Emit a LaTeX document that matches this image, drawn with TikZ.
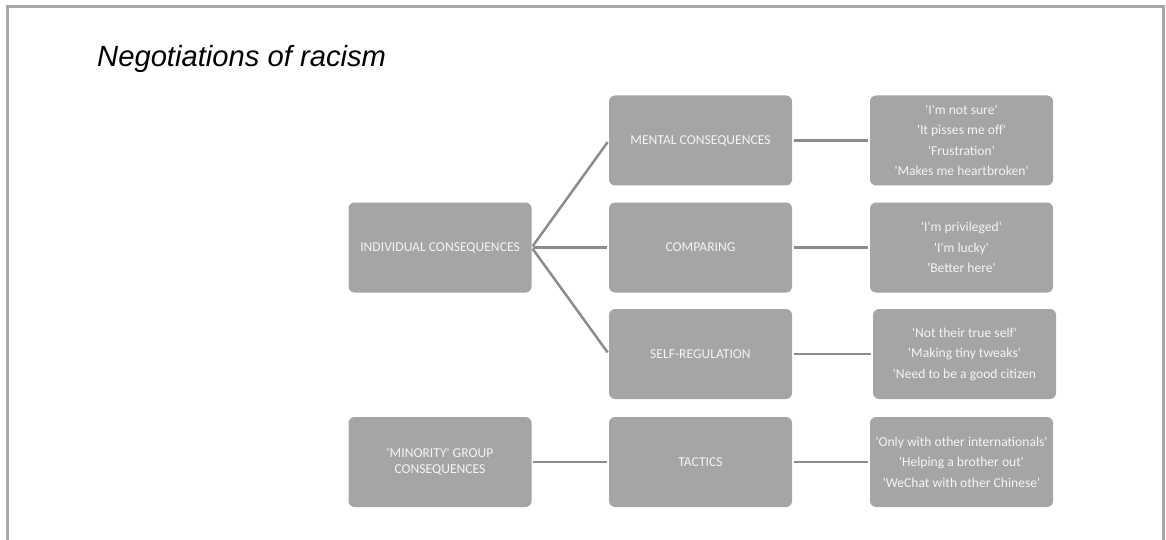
\documentclass[tikz,border=0pt]{standalone}
\usepackage{fontspec}
\setmainfont{Carlito}
\newfontfamily\titlefont{Liberation Sans}
\newcommand\sq{\textquotesingle}
\definecolor{boxfill}{HTML}{A5A5A5}
\definecolor{boxtext}{HTML}{F4F4F4}
\definecolor{linecol}{HTML}{8C8C8C}
\definecolor{framecol}{HTML}{A8A8A8}
\tikzset{
  box/.style={rectangle, rounded corners=6pt, fill=boxfill, text=boxtext, inner sep=0pt,
    minimum width=183pt, minimum height=90pt, align=center,
    font=\fontsize{13.6}{20.5}\selectfont},
  conn/.style={draw=linecol, line width=2.5pt, shorten <=1.5pt, shorten >=2pt},
}
\begin{document}
\begin{tikzpicture}[x=1pt,y=-1pt]
\useasboundingbox (0,0) rectangle (1166,540);
\draw[framecol, line width=3pt] (7.5,545) -- (7.5,6.5) -- (1163.5,6.5) -- (1163.5,545);
\node[anchor=base west, inner sep=0pt, font=\titlefont\itshape\fontsize{29.2}{34}\selectfont] (title) at (97,67) {Negotiations of racism};

\node[box] (ind) at (440,247.5) {INDIVIDUAL CONSEQUENCES};
\node[box] (min) at (440,462) {\sq MINORITY\sq{} GROUP\\[-4pt]CONSEQUENCES};
\node[box] (men) at (700.5,140.5) {MENTAL CONSEQUENCES};
\node[box] (com) at (700.5,247.5) {COMPARING};
\node[box] (sel) at (700.5,354) {SELF-REGULATION};
\node[box] (tac) at (700.5,462) {TACTICS};

\node[box] (q1) at (961.5,140.5) {\sq I\sq m not sure\sq\\\sq It pisses me off\sq\\\sq Frustration\sq\\\sq Makes me heartbroken\sq};
\node[box] (q2) at (961.5,247.5) {\sq I\sq m privileged\sq\\\sq I\sq m lucky\sq\\\sq Better here\sq};
\node[box] (q3) at (964.5,354) {\sq Not their true self\sq\\\sq Making tiny tweaks\sq\\\sq Need to be a good citizen};
\node[box] (q4) at (961.5,462) {\sq Only with other internationals\sq\\\sq Helping a brother out\sq\\\sq WeChat with other Chinese\sq};

\draw[conn] (ind.east) -- (men.west);
\draw[conn] (ind.east) -- (com.west);
\draw[conn] (ind.east) -- (sel.west);
\draw[conn] (min.east) -- (tac.west);
\draw[conn] (men.east) -- (q1.west);
\draw[conn] (com.east) -- (q2.west);
\draw[conn] (sel.east) -- (q3.west);
\draw[conn] (tac.east) -- (q4.west);
\end{tikzpicture}
\end{document}
